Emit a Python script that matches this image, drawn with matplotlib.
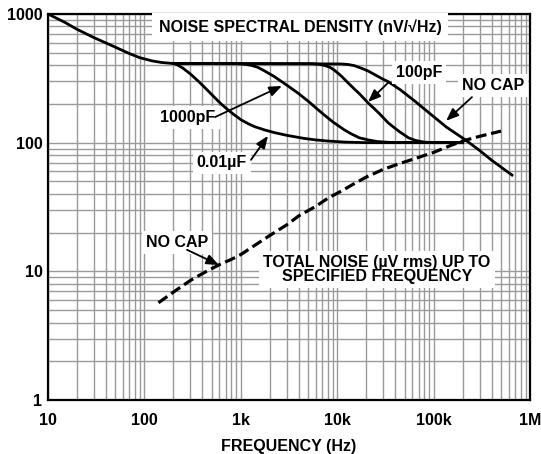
import numpy as np
from matplotlib import pyplot as plt
from matplotlib.ticker import FixedLocator, NullFormatter

plt.rcParams['font.family'] = ['Liberation Sans', 'DejaVu Sans']
plt.rcParams['font.weight'] = 'bold'

# noise spectral density (nV/rtHz), common low-frequency part
freq_base = [10, 15, 20, 30, 40, 50, 70, 90, 120, 150, 200]
nsd_base = [1000, 860, 760, 655, 595, 552, 492, 457, 432, 420, 412]

# 0.01uF
freq_10nf = [200, 220, 250, 300, 370, 450, 530, 620, 730, 850, 1000, 1200, 1400, 1740,
             2200, 3000, 4500, 6000, 8000, 12000, 20000, 200000]
nsd_10nf = [412, 402, 380, 342, 296, 256, 226, 201, 181, 165, 151, 140, 133, 126,
            120, 114, 108, 105, 103, 101, 100, 100]

# 1000pF
freq_1nf = [200, 900, 1100, 1300, 1500, 1740, 2200, 2800, 3400, 4000, 5000, 6340, 7500,
            9000, 11800, 14000, 17000, 21000, 26000, 35000, 200000]
nsd_1nf = [412, 411, 407, 398, 385, 363, 328, 290, 262, 240, 210, 180, 162,
           145, 126, 117, 109, 105, 102, 100.5, 100]

# 100pF
freq_100pf = [200, 5500, 6500, 7500, 8400, 9300, 11000, 13000, 15000, 17000, 21000, 24000,
              27000, 34000, 44000, 55000, 65000, 80000, 100000, 200000]
nsd_100pf = [412, 411, 406, 397, 385, 367, 330, 291, 262, 240, 203, 185,
             170, 142, 122, 109, 104, 101, 100, 100]

# no cap
freq_nocap = [200, 11000, 13000, 15000, 18000, 21000, 25000, 29000, 34000, 45000, 63000,
              90000, 136000, 210000, 300000, 400000, 650000]
nsd_nocap = [412, 409, 405, 397, 378, 360, 335, 315, 297, 258, 212,
             170, 132, 106, 87, 73, 56]

# total noise (uV rms) up to frequency, no cap
freq_total = [140, 200, 300, 430, 590, 800, 1000, 1500, 2000, 3000, 4000, 6000, 8000,
              11000, 15000, 20000, 30000, 45000, 60000, 100000, 150000, 200000, 300000, 500000]
noise_total = [5.7, 6.9, 8.5, 9.9, 11.2, 12.4, 13.5, 16.5, 19, 23, 27, 32, 37,
               42, 48, 54, 62, 69, 74, 84, 95, 103, 112, 123]

x_ticks = [10, 100, 1e3, 1e4, 1e5, 1e6]
x_labels = ['10', '100', '1k', '10k', '100k', '1M']
y_ticks = [1, 10, 100, 1000]
y_labels = ['1', '10', '100', '1000']

fs = 11.5

fig = plt.figure(figsize=(5.41, 4.54), dpi=100)
ax = fig.add_axes([0.0887, 0.1189, 0.891, 0.8503])
ax.set_xscale('log')
ax.set_yscale('log')
ax.set_xlim(10, 1e6)
ax.set_ylim(1, 1000)

lw = 2.0
ax.plot(freq_base, nsd_base, color='k', lw=lw, solid_capstyle='butt', zorder=3)
for f, v in [(freq_10nf, nsd_10nf), (freq_1nf, nsd_1nf), (freq_100pf, nsd_100pf), (freq_nocap, nsd_nocap)]:
    ax.plot(f, v, color='k', lw=lw, solid_joinstyle='round', zorder=3)
ax.plot(freq_total, noise_total, color='k', lw=2.3, dashes=(3.4, 1.5), zorder=3)

# grid
ax.xaxis.set_major_locator(FixedLocator(x_ticks))
ax.yaxis.set_major_locator(FixedLocator(y_ticks))
ax.set_xticklabels(x_labels)
ax.set_yticklabels(y_labels)
ax.xaxis.set_minor_formatter(NullFormatter())
ax.yaxis.set_minor_formatter(NullFormatter())
ax.grid(which='both', color='#9a9a9a', lw=1.0, zorder=0)
ax.tick_params(which='both', length=0, labelsize=fs)
ax.tick_params(axis='x', pad=9)
ax.tick_params(axis='y', pad=4)
for s in ax.spines.values():
    s.set_linewidth(1.6)
    s.set_color('k')
ax.set_xlabel('FREQUENCY (Hz)', fontsize=fs, fontweight='bold', labelpad=8)

box = dict(facecolor='white', edgecolor='none', boxstyle='square,pad=0.25')
arrow = dict(arrowstyle='-|>,head_length=0.5,head_width=0.2', color='k', lw=1.3,
             mutation_scale=15, shrinkA=0, shrinkB=0)

ax.text(4100, 790, 'NOISE SPECTRAL DENSITY (nV/\u221aHz)', ha='center', va='center',
        fontsize=fs, fontweight='bold', bbox=dict(facecolor='white', edgecolor='none',
                                                  boxstyle='square,pad=0.4'), zorder=5)
ax.text(25900, 10.3, 'TOTAL NOISE (\u00b5V rms) UP TO\nSPECIFIED FREQUENCY', ha='center',
        va='center', fontsize=fs, fontweight='bold', linespacing=0.95,
        bbox=dict(facecolor='white', edgecolor='none', boxstyle='square,pad=0.25'), zorder=5)

labels = [
    ('1000pF', (283, 156), (540, 158), (2670, 276)),
    ('0.01\u00b5F', (638, 69.5), (1275, 73.5), (1915, 113)),
    ('100pF', (70600, 354), (33600, 291), (20900, 207)),
    ('NO CAP', (413000, 276), (250000, 226), (135000, 148)),
    ('NO CAP', (218, 16.9), (277, 14.7), (594, 11.2)),
]
for txt, pos, tail, head in labels:
    ax.text(pos[0], pos[1], txt, ha='center', va='center', fontsize=fs,
            fontweight='bold', bbox=box, zorder=5)
    ax.annotate('', xy=head, xytext=tail, arrowprops=arrow, zorder=6)

fig.savefig('out.png', dpi=100)
